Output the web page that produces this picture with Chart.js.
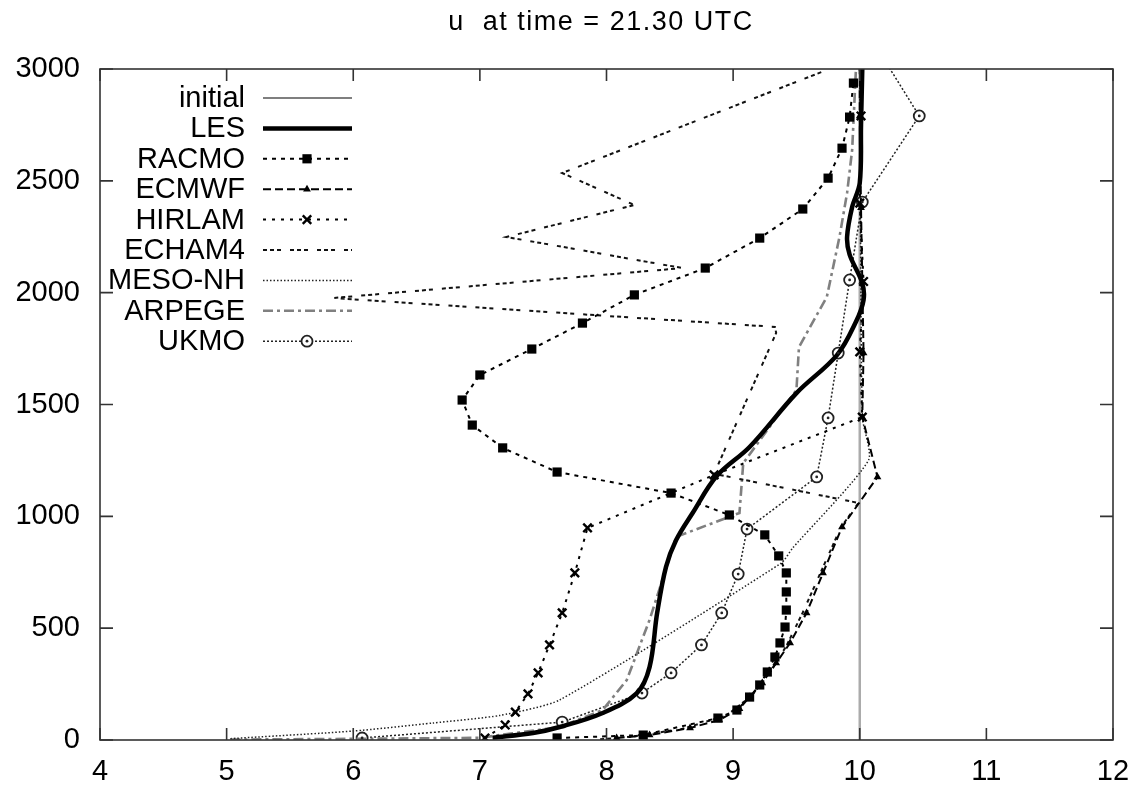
<!DOCTYPE html>
<html>
<head>
<meta charset="utf-8">
<script src="https://cdn.jsdelivr.net/npm/chart.js@4.4.0/dist/chart.umd.min.js"></script>
<style>
  html, body { margin: 0; padding: 0; background: #fff; }
  #wrap { width: 1129px; height: 786px; position: relative; }
</style>
</head>
<body>
<div id="wrap"><canvas id="profile-chart"></canvas></div>
<script>
/* =========================================================
   DATA  (u in m/s, z in m)
========================================================= */

const TITLE = "u  at time = 21.30 UTC";

const X_TICKS = [4, 5, 6, 7, 8, 9, 10, 11, 12];
const Y_TICKS = [0, 500, 1000, 1500, 2000, 2500, 3000];

const initialU = [10, 10];
const initialZ = [0, 3000];

const lesU = [7.10, 7.42, 7.63, 7.97, 8.24, 8.34, 8.40, 8.47, 8.55, 8.68, 8.87, 9.13, 9.50, 9.82, 9.97, 10.03, 10.02, 9.92, 9.90, 9.94, 10.00, 10.01, 10.02];
const lesZ = [10, 31, 58, 121, 210, 326, 568, 774, 894, 1015, 1180, 1310, 1551, 1721, 1870, 1967, 2043, 2170, 2249, 2383, 2490, 2750, 3000];

const racmoU = [7.61, 8.29, 8.88, 9.03, 9.13, 9.21, 9.27, 9.33, 9.37, 9.41, 9.42, 9.42, 9.42, 9.36, 9.25, 8.97, 8.51, 7.61, 7.18, 6.94, 6.86, 7.00, 7.41, 7.81, 8.22, 8.78, 9.21, 9.55, 9.75, 9.86, 9.92, 9.95];
const racmoZ = [9, 22, 98, 134, 192, 246, 304, 371, 434, 505, 581, 662, 747, 823, 917, 1006, 1104, 1198, 1306, 1408, 1520, 1632, 1748, 1864, 1990, 2110, 2244, 2374, 2512, 2646, 2785, 2937];

const ecmwfU = [8.08, 8.34, 8.66, 8.89, 9.05, 9.13, 9.23, 9.34, 9.45, 9.58, 9.71, 9.86, 10.14, 10.02, 10.03, 10.02, 10.01, 10.00, 10.00];
const ecmwfZ = [9, 22, 54, 89, 140, 192, 255, 344, 434, 568, 747, 952, 1176, 1444, 1730, 2050, 2380, 2790, 3000];

const hirlamU = [7.04, 7.20, 7.28, 7.38, 7.46, 7.55, 7.65, 7.75, 7.85, 8.85, 10.02, 10.00, 10.03, 10.00, 10.01, 10.00];
const hirlamZ = [9, 67, 125, 206, 300, 425, 568, 747, 948, 1185, 1444, 1735, 2050, 2400, 2790, 3000];

const echamU = [7.95, 8.20, 8.60, 8.95, 9.15, 9.30, 9.42, 9.55, 9.70, 9.85, 9.99, 8.85, 9.34, 9.33, 5.84, 8.60, 7.21, 8.22, 7.65, 9.76];
const echamZ = [3, 15, 50, 110, 200, 310, 420, 570, 760, 950, 1060, 1190, 1820, 1847, 1976, 2110, 2249, 2392, 2535, 3000];

const mesoU = [5.03, 6.00, 6.63, 7.16, 7.63, 9.38, 9.47, 10.07, 10.02, 10.00];
const mesoZ = [6, 40, 76, 110, 179, 791, 858, 1252, 1444, 3000];

const arpegeU = [5.03, 6.00, 7.00, 7.63, 7.97, 8.16, 8.34, 8.55, 9.05, 9.08, 9.50, 9.52, 9.74, 9.84, 9.90, 9.94, 9.97];
const arpegeZ = [2, 5, 10, 58, 134, 268, 537, 908, 1015, 1238, 1565, 1757, 1981, 2249, 2446, 2638, 3000];

const ukmoU = [6.07, 7.65, 8.28, 8.51, 8.75, 8.91, 9.04, 9.11, 9.66, 9.75, 9.83, 9.92, 10.02, 10.47, 10.13];
const ukmoZ = [9, 80, 210, 300, 425, 568, 742, 943, 1176, 1440, 1730, 2057, 2405, 2790, 3100];

/* =========================================================
   HELPERS
========================================================= */

const FONT = "'Liberation Sans', Arial, Helvetica, sans-serif";

function zip(u, z) {
  return u.map((x, i) => ({ x, y: z[i] }));
}

// no marker where the profile runs into the top frame
function markerSize(r) {
  return (ctx) => (ctx.raw && ctx.raw.y >= 3000 ? 0 : r);
}

/* =========================================================
   DATASETS
========================================================= */

const datasets = [
  {
    label: "initial", data: zip(initialU, initialZ), order: 10,
    borderColor: "#ababab", borderWidth: 2.5, pointRadius: 0
  },
  {
    label: "LES", data: zip(lesU, lesZ), order: 0,
    borderColor: "#000", borderWidth: 4.5, pointRadius: 0, tension: 0.35
  },
  {
    label: "RACMO", data: zip(racmoU, racmoZ), order: 1,
    borderColor: "#000", borderWidth: 2, borderDash: [4, 5],
    pointStyle: "rect", pointRadius: 6.5, backgroundColor: "#000", pointBorderWidth: 0
  },
  {
    label: "ECMWF", data: zip(ecmwfU, ecmwfZ), order: 2,
    borderColor: "#000", borderWidth: 2, borderDash: [8, 4],
    pointStyle: "triangle", pointRadius: markerSize(4.5), backgroundColor: "#000", pointBorderWidth: 0
  },
  {
    label: "HIRLAM", data: zip(hirlamU, hirlamZ), order: 3,
    borderColor: "#000", borderWidth: 2, borderDash: [3, 6],
    pointStyle: "crossRot", pointRadius: markerSize(6), pointBorderWidth: 2.4,
    pointBorderColor: "#000", backgroundColor: "#000"
  },
  {
    label: "ECHAM4", data: zip(echamU, echamZ), order: 4,
    borderColor: "#111", borderWidth: 2, borderDash: [4, 3, 4, 3, 4, 9], pointRadius: 0
  },
  {
    label: "MESO-NH", data: zip(mesoU, mesoZ), order: 5,
    borderColor: "#222", borderWidth: 1.5, borderDash: [1.5, 2], pointRadius: 0, tension: 0.2
  },
  {
    label: "ARPEGE", data: zip(arpegeU, arpegeZ), order: 6,
    borderColor: "#808080", borderWidth: 2.6, borderDash: [10, 4, 3, 4], pointRadius: 0
  },
  {
    label: "UKMO", data: zip(ukmoU, ukmoZ), order: 7,
    borderColor: "#222", borderWidth: 1.5, borderDash: [2, 2],
    pointStyle: "circle", pointRadius: markerSize(5.5), pointBorderWidth: 1.8,
    pointBorderColor: "#222", backgroundColor: "#fff"
  }
];

datasets.forEach((d) => { d.fill = false; });

/* =========================================================
   PLUGINS  (frame, inward ticks, title, key)
========================================================= */

const framePlugin = {
  id: "frame",
  afterDatasetsDraw(chart) {
    const { ctx, chartArea: a, scales } = chart;
    ctx.save();

    // dot in the middle of the UKMO circles
    const ukmo = chart.getDatasetMeta(datasets.findIndex((d) => d.label === "UKMO"));
    ctx.fillStyle = "#222";
    ukmo.data.forEach((pt, i) => {
      if (ukmoZ[i] >= 3000) return;
      ctx.beginPath();
      ctx.arc(pt.x, pt.y, 1.4, 0, Math.PI * 2);
      ctx.fill();
    });

    ctx.strokeStyle = "#333";
    ctx.lineWidth = 1.6;
    ctx.setLineDash([]);
    ctx.strokeRect(a.left, a.top, a.right - a.left, a.bottom - a.top);

    ctx.beginPath();
    X_TICKS.forEach((v) => {
      const px = scales.x.getPixelForValue(v);
      ctx.moveTo(px, a.bottom); ctx.lineTo(px, a.bottom - 12);
      ctx.moveTo(px, a.top); ctx.lineTo(px, a.top + 12);
    });
    Y_TICKS.forEach((v) => {
      const py = scales.y.getPixelForValue(v);
      ctx.moveTo(a.left, py); ctx.lineTo(a.left + 13, py);
      ctx.moveTo(a.right, py); ctx.lineTo(a.right - 13, py);
    });
    ctx.stroke();
    ctx.restore();
  },
  afterDraw(chart) {
    const { ctx } = chart;
    ctx.save();

    // title
    ctx.fillStyle = "#000";
    ctx.font = `27px ${FONT}`;
    ctx.textAlign = "center";
    ctx.textBaseline = "middle";
    ctx.letterSpacing = "1.5px";
    ctx.fillText(TITLE, 601, 23);
    ctx.letterSpacing = "0px";

    // key
    const textRight = 245, lineX0 = 263, lineX1 = 352, markX = 307;
    const rowY = (i) => 98 + i * 30.4;

    chart.data.datasets.forEach((ds, i) => {
      const y = rowY(i);
      ctx.font = `29px ${FONT}`;
      ctx.textAlign = "right";
      ctx.fillStyle = "#000";
      ctx.fillText(ds.label, textRight, y + 1);

      ctx.strokeStyle = ds.borderColor;
      ctx.lineWidth = ds.label === "initial" ? 1.3 : ds.borderWidth;
      if (ds.label === "initial") ctx.strokeStyle = "#555";
      ctx.setLineDash(ds.borderDash || []);
      ctx.beginPath();
      ctx.moveTo(lineX0, y);
      ctx.lineTo(lineX1, y);
      ctx.stroke();
      ctx.setLineDash([]);

      if (ds.pointStyle) {
        const r = typeof ds.pointRadius === "function" ? ds.pointRadius({ raw: { y: 0 } }) : ds.pointRadius;
        ctx.fillStyle = ds.backgroundColor;
        ctx.strokeStyle = ds.pointBorderColor || "#000";
        ctx.lineWidth = ds.pointBorderWidth || 0;
        Chart.helpers.drawPoint(ctx, {
          pointStyle: ds.pointStyle, radius: r, rotation: 0,
          borderWidth: ds.pointBorderWidth || 0
        }, markX, y);
        if (ds.label === "UKMO") {
          ctx.fillStyle = "#222";
          ctx.beginPath();
          ctx.arc(markX, y, 1.4, 0, Math.PI * 2);
          ctx.fill();
        }
      }
    });
    ctx.restore();
  }
};

/* =========================================================
   CHART
========================================================= */

const tickFont = { family: FONT, size: 29 };

function fitX(s) {
  s.height = 46;
  s.paddingLeft = 0;
  s.paddingRight = 0;
}

function fitY(s) {
  s.width = 100;
  s.paddingTop = 0;
  s.paddingBottom = 0;
}

new Chart(document.getElementById("profile-chart"), {
  type: "line",
  data: { datasets },
  plugins: [framePlugin],
  options: {
    responsive: true,
    maintainAspectRatio: false,
    animation: false,
    layout: { padding: { top: 69, right: 16, left: 0, bottom: 0 } },
    plugins: {
      legend: { display: false },
      title: { display: false },
      tooltip: { enabled: false }
    },
    elements: { line: { tension: 0 } },
    scales: {
      x: {
        type: "linear",
        min: 4,
        max: 12,
        afterBuildTicks: (s) => { s.ticks = X_TICKS.map((v) => ({ value: v })); },
        afterFit: fitX,
        grid: { display: false, drawTicks: false },
        border: { display: false },
        ticks: { color: "#000", font: tickFont, padding: 15, callback: (v) => String(v) }
      },
      y: {
        type: "linear",
        min: 0,
        max: 3000,
        afterBuildTicks: (s) => { s.ticks = Y_TICKS.map((v) => ({ value: v })); },
        afterFit: fitY,
        grid: { display: false, drawTicks: false },
        border: { display: false },
        ticks: { color: "#000", font: tickFont, padding: 20, callback: (v) => String(v) }
      }
    }
  }
});
</script>
</body>
</html>
